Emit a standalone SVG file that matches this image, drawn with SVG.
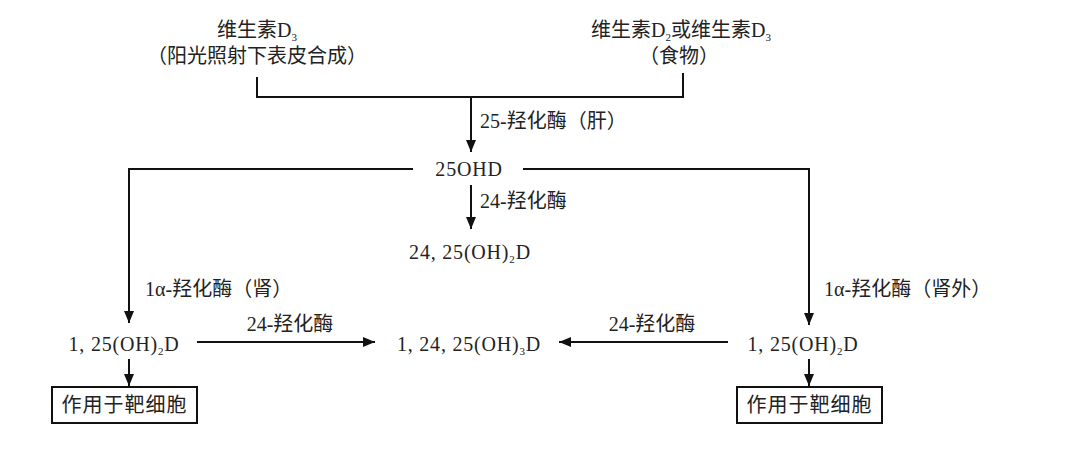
<svg xmlns="http://www.w3.org/2000/svg" width="1080" height="451" viewBox="0 0 1080 451">
<defs>
<marker id="ah" markerUnits="userSpaceOnUse" markerWidth="12" markerHeight="12" viewBox="0 0 12 10" refX="12" refY="5" orient="auto">
<path d="M0,0 L12,5 L0,10 Z" fill="#111"/>
</marker>
<style>
text{font-family:"Liberation Serif","Noto Sans CJK SC",serif;font-size:20px;fill:#222}
.c{text-anchor:middle}
.chem{letter-spacing:0.8px}
.sub{font-size:11px}
.ln{fill:none;stroke:#111;stroke-width:2}
.ar{fill:none;stroke:#111;stroke-width:2;marker-end:url(#ah)}
.bx{fill:#fff;stroke:#111;stroke-width:2}
</style>
</defs>
<rect width="1080" height="451" fill="#fff"/>
<g id="connectors">
<polyline class="ln" points="257,77 257,97 683,97 683,73"/>
<line class="ar" x1="471" y1="97" x2="471" y2="152"/>
<polyline class="ar" points="413,169 129,169 129,323"/>
<polyline class="ar" points="523,169 809,169 809,325"/>
<line class="ar" x1="471" y1="185" x2="471" y2="229"/>
<line class="ar" x1="197" y1="342" x2="375" y2="342"/>
<line class="ar" x1="728" y1="342" x2="559" y2="342"/>
<line class="ar" x1="129" y1="359" x2="129" y2="386"/>
<line class="ar" x1="809" y1="359" x2="809" y2="386"/>
<text x="480" y="128">25-羟化酶（肝）</text>
<text x="480" y="208">24-羟化酶</text>
<text x="145" y="296">1α-羟化酶（肾）</text>
<text x="824" y="296">1α-羟化酶（肾外）</text>
<text class="c" x="290" y="331">24-羟化酶</text>
<text class="c" x="652" y="331">24-羟化酶</text>
</g>
<g id="vd3-skin">
<text class="c" x="257" y="37">维生素D<tspan class="sub" dy="4">3</tspan></text>
<text class="c" x="257" y="63">（阳光照射下表皮合成）</text>
</g>
<g id="vd-food">
<text class="c" x="681" y="37">维生素D<tspan class="sub" dy="4">2</tspan><tspan dy="-4">或维生素D</tspan><tspan class="sub" dy="4">3</tspan></text>
<text class="c" x="679" y="63">（食物）</text>
</g>
<g id="n25ohd">
<text class="c chem" x="469" y="176">25OHD</text>
</g>
<g id="n2425">
<text class="c chem" x="470" y="259">24, 25(OH)<tspan class="sub" dy="4">2</tspan><tspan dy="-4">D</tspan></text>
</g>
<g id="n125-left">
<text class="c chem" x="124" y="351">1, 25(OH)<tspan class="sub" dy="4">2</tspan><tspan dy="-4">D</tspan></text>
</g>
<g id="n125-right">
<text class="c chem" x="803" y="351">1, 25(OH)<tspan class="sub" dy="4">2</tspan><tspan dy="-4">D</tspan></text>
</g>
<g id="n12425">
<text class="c chem" x="469" y="351">1, 24, 25(OH)<tspan class="sub" dy="4">3</tspan><tspan dy="-4">D</tspan></text>
</g>
<g id="target-left">
<rect class="bx" x="52" y="387" width="145" height="36"/>
<text class="c" x="124.500" y="412" letter-spacing="1">作用于靶细胞</text>
</g>
<g id="target-right">
<rect class="bx" x="737" y="387" width="145" height="36"/>
<text class="c" x="809.500" y="412" letter-spacing="1">作用于靶细胞</text>
</g>
</svg>
